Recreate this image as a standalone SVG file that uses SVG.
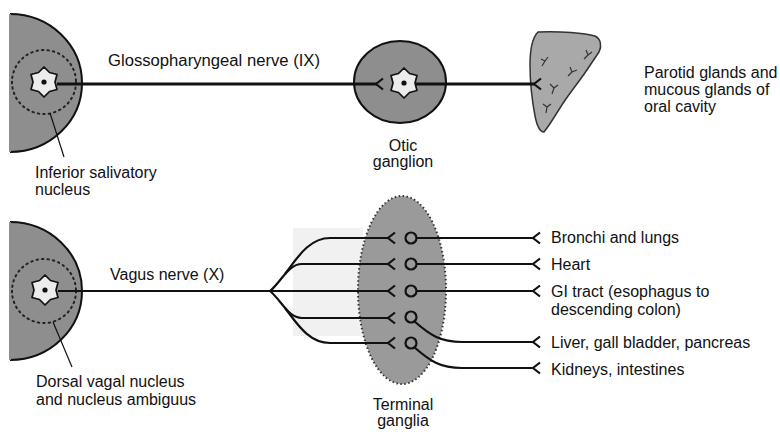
<svg xmlns="http://www.w3.org/2000/svg" width="780" height="432" viewBox="0 0 780 432">
  <defs>
    <style>
      text { font-family: "Liberation Sans", Arial, sans-serif; font-size: 16px; fill: #111; }
      .mid { text-anchor: middle; }
      .nucleus { fill: #8e8e8e; stroke: #111; stroke-width: 2; }
      .halo { fill: none; stroke: #222; stroke-width: 2; stroke-dasharray: 1.5 4; stroke-linecap: round; }
      .soma { fill: #ececec; stroke: #111; stroke-width: 1.7; stroke-linejoin: round; }
      .axon { fill: none; stroke: #111; stroke-width: 2.2; }
      .thick { stroke-width: 3; }
      .term { fill: none; stroke: #111; stroke-width: 2.2; stroke-linejoin: miter; }
      .syn { fill: none; stroke: #111; stroke-width: 2.2; }
      .pointer { fill: none; stroke: #111; stroke-width: 1.2; }
      .ymark { fill: none; stroke: #333; stroke-width: 1.2; }
    </style>
    <!-- six-pointed cell body centred on the origin -->
    <path id="cell" d="M0,-15 L5.5,-9.5 L13,-7.5 L11,0 L13,7.5 L5.5,9.5 L0,15 L-5.5,9.5 L-13,7.5 L-11,0 L-13,-7.5 L-5.5,-9.5 Z"/>
    <!-- axon terminal: tip at origin, arms opening right -->
    <path id="fork" d="M7,-5.5 L0,0 L7,5.5"/>
  </defs>

  <rect width="780" height="432" fill="#fff"/>

  <!-- faint backdrop behind the vagal branches -->
  <rect x="293" y="228" width="70" height="108" fill="#f1f1f1"/>

  <!-- Inferior salivatory nucleus -->
  <g id="inferior-salivatory-nucleus">
    <path class="nucleus" d="M10,14 A72,69 0 0 1 10,152" />
    <path d="M10,14 L10,152" stroke="#8e8e8e" stroke-width="2"/>
    <circle class="halo" cx="44" cy="82" r="32"/>
    <use href="#cell" class="soma" x="44" y="82"/>
    <circle cx="44" cy="82" r="2.6" fill="#111"/>
    <path class="pointer" d="M50,113 L64,157"/>
    <text x="35" y="178">Inferior salivatory</text>
    <text x="35" y="195">nucleus</text>
  </g>

  <!-- Otic ganglion -->
  <g id="otic-ganglion">
    <ellipse class="nucleus" cx="400" cy="82" rx="46" ry="41"/>
    <use href="#cell" class="soma" x="404" y="83"/>
    <circle cx="404" cy="83" r="2.6" fill="#111"/>
    <text class="mid" x="403" y="151">Otic</text>
    <text class="mid" x="403" y="167">ganglion</text>
  </g>

  <!-- Parotid and oral mucous glands -->
  <g id="parotid-glands">
    <path d="M538,32 C560,31 585,33 595,36 C601,39 602,46 599,52 C590,66 578,83 568,96 C558,110 552,122 544,132 C540,132 537,126 535,116 C532,100 530,80 530,65 C530,50 532,38 538,32 Z" fill="#a9a9a9" stroke="#333" stroke-width="1.5"/>
    <path class="ymark" d="M542,66 L545,61 L548,57 M545,61 L541,59"/>
    <path class="ymark" d="M584,59 L588,55 L586,50 M588,55 L592,52"/>
    <path class="ymark" d="M568,76 L572,72 L570,67 M572,72 L577,70"/>
    <path class="ymark" d="M552,94 L554,88 L550,84 M554,88 L558,85"/>
    <path class="ymark" d="M546,113 L547,107 L543,104 M547,107 L551,104"/>
    <text x="644" y="78">Parotid glands and</text>
    <text x="644" y="95">mucous glands of</text>
    <text x="644" y="112">oral cavity</text>
  </g>

  <!-- Dorsal vagal nucleus and nucleus ambiguus -->
  <g id="dorsal-vagal-nucleus">
    <path class="nucleus" d="M10,222 A72,69 0 0 1 10,360" />
    <path d="M10,222 L10,360" stroke="#8e8e8e" stroke-width="2"/>
    <circle class="halo" cx="44" cy="291" r="32"/>
    <use href="#cell" class="soma" x="45" y="290"/>
    <circle cx="45" cy="290" r="2.6" fill="#111"/>
    <path class="pointer" d="M53,322 L72,367"/>
    <text x="36" y="387">Dorsal vagal nucleus</text>
    <text x="36" y="405">and nucleus ambiguus</text>
  </g>

  <!-- Terminal ganglia -->
  <g id="terminal-ganglia">
    <ellipse cx="402" cy="290" rx="44" ry="94" fill="#9a9a9a" stroke="#333" stroke-width="2" stroke-dasharray="1.5 2.5"/>
    <circle class="syn" cx="411" cy="238" r="5.5"/>
    <circle class="syn" cx="411" cy="264" r="5.5"/>
    <circle class="syn" cx="411" cy="291" r="5.5"/>
    <circle class="syn" cx="411" cy="317" r="5.5"/>
    <circle class="syn" cx="411" cy="343" r="5.5"/>
    <text class="mid" x="403" y="410">Terminal</text>
    <text class="mid" x="403" y="426">ganglia</text>
  </g>

  <!-- Target organ labels -->
  <g id="vagal-targets">
    <text x="551" y="243">Bronchi and lungs</text>
    <text x="551" y="270">Heart</text>
    <text x="551" y="297">GI tract (esophagus to</text>
    <text x="551" y="315">descending colon)</text>
    <text x="551" y="348">Liver, gall bladder, pancreas</text>
    <text x="551" y="375">Kidneys, intestines</text>
  </g>

  <!-- Nerve fibres -->
  <g id="connectors">
    <!-- glossopharyngeal pathway -->
    <path class="axon thick" d="M57,84 H377"/>
    <use href="#fork" class="term" x="376" y="84"/>
    <path class="axon thick" d="M416,84 H535"/>
    <use href="#fork" class="term" x="534" y="84"/>
    <text x="108" y="66" textLength="212" lengthAdjust="spacingAndGlyphs">Glossopharyngeal nerve (IX)</text>

    <!-- vagus pathway: preganglionic branches -->
    <path class="axon" d="M58,291 H270"/>
    <text x="110" y="280">Vagus nerve (X)</text>
    <path class="axon" d="M270,291 C282,281 288,264 302,264 H389"/>
    <path class="axon" d="M285,274 C296,260 308,238 330,238 H389"/>
    <path class="axon" d="M270,291 H389"/>
    <path class="axon" d="M270,291 C282,301 288,318 302,318 H389"/>
    <path class="axon" d="M285,308 C296,322 308,343 330,343 H389"/>
    <use href="#fork" class="term" x="388" y="238"/>
    <use href="#fork" class="term" x="388" y="264"/>
    <use href="#fork" class="term" x="388" y="291"/>
    <use href="#fork" class="term" x="388" y="318"/>
    <use href="#fork" class="term" x="388" y="343"/>

    <!-- postganglionic fibres to the organs -->
    <path class="axon" d="M416,238 H534"/>
    <path class="axon" d="M416,264 H534"/>
    <path class="axon" d="M416,291 H534"/>
    <path class="axon" d="M414,321 C430,335 440,342 462,342 H534"/>
    <path class="axon" d="M414,347 C430,361 440,368 462,368 H534"/>
    <use href="#fork" class="term" x="533" y="238"/>
    <use href="#fork" class="term" x="533" y="264"/>
    <use href="#fork" class="term" x="533" y="291"/>
    <use href="#fork" class="term" x="533" y="342"/>
    <use href="#fork" class="term" x="533" y="368"/>
  </g>
</svg>
